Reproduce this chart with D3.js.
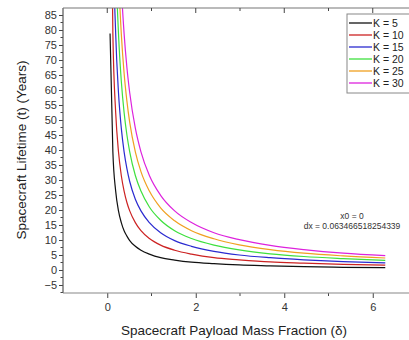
<!DOCTYPE html>
<html><head><meta charset="utf-8">
<script src="https://cdn.jsdelivr.net/npm/d3@7"></script>
<style>body{margin:0;background:#fff}svg{display:block;font-family:"Liberation Sans",Arial,sans-serif}</style>
</head><body><svg id="c" width="409" height="340"></svg>
<script>
const delta = [0.0635,0.1269,0.1904,0.2539,0.3173,0.3808,0.4443,0.5077,0.6347,0.7616,0.9520,1.2059,1.5232,1.9040,2.4117,2.9829,3.6813,4.4427,5.3312,6.2832];
const kLabels = ["K = 5","K = 10","K = 15","K = 20","K = 25","K = 30"];
const k5  = [78.8,39.4,26.3,19.7,15.8,13.1,11.3,9.8,7.9,6.6,5.3,4.1,3.3,2.6,2.1,1.7,1.4,1.1,0.9,0.8];
const k10 = [157.6,78.8,52.5,39.4,31.5,26.3,22.5,19.7,15.8,13.1,10.5,8.3,6.6,5.3,4.1,3.4,2.7,2.3,1.9,1.6];
const k15 = [236.3,118.2,78.8,59.1,47.3,39.4,33.8,29.5,23.6,19.7,15.8,12.4,9.8,7.9,6.2,5.0,4.1,3.4,2.8,2.4];
const k20 = [315.1,157.6,105.0,78.8,63.0,52.5,45.0,39.4,31.5,26.3,21.0,16.6,13.1,10.5,8.3,6.7,5.4,4.5,3.8,3.2];
const k25 = [393.9,197.0,131.3,98.5,78.8,65.6,56.3,49.2,39.4,32.8,26.3,20.7,16.4,13.1,10.4,8.4,6.8,5.6,4.7,4.0];
const k30 = [472.7,236.3,157.6,118.2,94.5,78.8,67.5,59.1,47.3,39.4,31.5,24.9,19.7,15.8,12.4,10.1,8.2,6.8,5.6,4.8];
const colors = ["#111111","#cc2222","#2a2ad0","#3ee03e","#f0a020","#dd22dd"];
const yTicks = [-5,0,5,10,15,20,25,30,35,40,45,50,55,60,65,70,75,80,85];
const xTicks = [0,2,4,6];
const annot = ["x0 = 0","dx = 0.063466518254339"];

const series = [k5,k10,k15,k20,k25,k30];
const svg = d3.select("#c");
const L = 63, T = 8, B = 293, R = 417;
const x = d3.scaleLinear().domain([-1, 7]).range([L, R]);
const y = d3.scaleLinear().domain([-5, 85]).range([285, 15]);

svg.append("clipPath").attr("id","clip").append("rect")
  .attr("x",L).attr("y",T).attr("width",R-L).attr("height",B-T);

const line = d3.line().x(d=>x(d[0])).y(d=>y(d[1])).curve(d3.curveMonotoneX);
const g = svg.append("g").attr("clip-path","url(#clip)");
series.forEach((s,i)=>{
  g.append("path").datum(delta.map((d,j)=>[d,s[j]]))
    .attr("d",line).attr("fill","none").attr("stroke",colors[i]).attr("stroke-width",1.2);
});

// axes
const ax = svg.append("g").attr("stroke","#555").attr("fill","none");
// left
const yAx = d3.axisLeft(y).tickValues(yTicks).tickSize(4).tickFormat(d3.format("d"));
const ly = svg.append("g").attr("transform",`translate(${L},0)`).call(yAx);
ly.select(".domain").remove();
ly.selectAll("line").attr("stroke","#444");
ly.selectAll("text").attr("font-size",11).attr("fill","#333").attr("x",-6);
const yMinor = d3.range(-7.5, 87, 5);
ly.selectAll(".minor").data(yMinor.filter(v=>y(v)>=T&&y(v)<=B)).enter().append("line")
  .attr("x1",0).attr("x2",-2.5).attr("y1",d=>y(d)).attr("y2",d=>y(d)).attr("stroke","#444");
svg.append("line").attr("x1",L).attr("x2",L).attr("y1",T).attr("y2",B).attr("stroke","#555").attr("stroke-width",1.2);
// bottom
const xAx = d3.axisBottom(x).tickValues(xTicks).tickSize(5).tickFormat(d3.format("d"));
const bx = svg.append("g").attr("transform",`translate(0,${B})`).call(xAx);
bx.select(".domain").remove();
bx.selectAll("line").attr("stroke","#444");
bx.selectAll("text").attr("font-size",11).attr("fill","#333").attr("dy","0.9em");
[1,3,5].forEach(v=>bx.append("line").attr("x1",x(v)).attr("x2",x(v)).attr("y1",0).attr("y2",3).attr("stroke","#444"));
svg.append("line").attr("x1",L).attr("x2",409).attr("y1",B).attr("y2",B).attr("stroke","#888").attr("stroke-width",1.2);
// top
svg.append("line").attr("x1",L).attr("x2",409).attr("y1",T).attr("y2",T).attr("stroke","#777").attr("stroke-width",1.2);
[0,2,4,6].forEach(v=>svg.append("line").attr("x1",x(v)).attr("x2",x(v)).attr("y1",T).attr("y2",T+5).attr("stroke","#444"));
[1,3,5].forEach(v=>svg.append("line").attr("x1",x(v)).attr("x2",x(v)).attr("y1",T).attr("y2",T+3).attr("stroke","#444"));

// titles
svg.append("text").attr("x",234).attr("y",335).attr("text-anchor","middle")
  .attr("font-size",13.5).attr("fill","#222").text("Spacecraft Payload Mass Fraction (δ)");
svg.append("text").attr("transform","translate(26,150) rotate(-90)").attr("text-anchor","middle")
  .attr("font-size",13.5).attr("fill","#222").text("Spacecraft Lifetime (t) (Years)");

// annotation
annot.forEach((t,i)=>svg.append("text").attr("x",352).attr("y",219+i*9.5).attr("text-anchor","middle")
  .attr("font-size",8.5).attr("fill","#333").text(t));

// legend
const lg = svg.append("g");
lg.append("rect").attr("x",347).attr("y",14).attr("width",70).attr("height",79)
  .attr("fill","#fff").attr("stroke","#888").attr("stroke-width",1);
kLabels.forEach((t,i)=>{
  const yy = 23 + i*12;
  lg.append("line").attr("x1",349).attr("x2",372).attr("y1",yy).attr("y2",yy).attr("stroke",colors[i]).attr("stroke-width",1.3);
  lg.append("text").attr("x",373).attr("y",yy+3.8).attr("font-size",10.5).attr("fill","#222").text(t);
});
</script></body></html>
